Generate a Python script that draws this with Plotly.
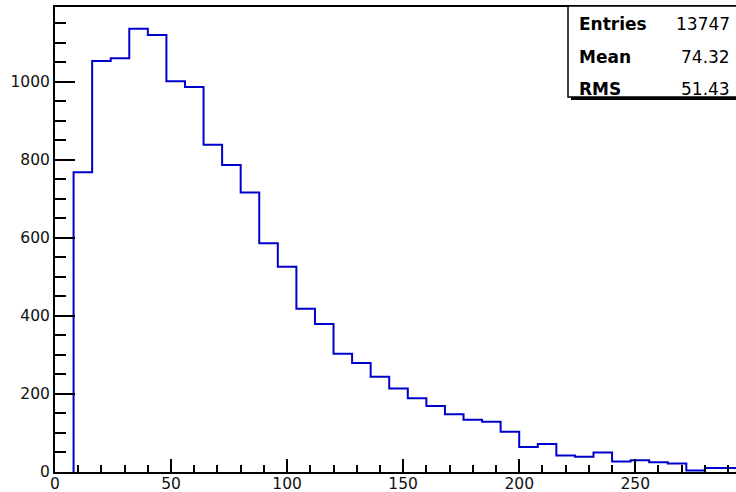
import plotly.graph_objects as go

# ---- data ----
bin_start = 8
bin_width = 8
counts = [768, 1053, 1060, 1135, 1119, 1001, 986, 838, 786, 716,
          586, 526, 418, 379, 303, 279, 244, 214, 189, 169,
          148, 134, 129, 103, 64, 72, 42, 39, 50, 27,
          30, 25, 22, 4, 10, 10]
stats_labels = ["Entries", "Mean", "RMS"]
stats_values = ["13747", "74.32", "51.43"]

# bin edges from the histogram definition
edges = [bin_start + i * bin_width for i in range(len(counts) + 1)]
xs = [edges[0]] + edges
ys = [0] + counts + [counts[-1]]

W, H = 736, 492
ML, MR, MT, MB = 55, 0, 7, 20
PW, PH = W - ML - MR, H - MT - MB

def px_x(p):
    return (p - ML) / PW

def px_y(p):
    return (H - MB - p) / PH

fig = go.Figure()
fig.add_trace(go.Scatter(
    x=xs, y=ys, mode="lines", line_shape="hv",
    line=dict(color="#0000cc", width=2), hoverinfo="skip", showlegend=False))

tickfont = dict(family="DejaVu Sans", size=15.5, color="#111111")
fig.update_xaxes(
    range=[0, 293.4], showgrid=False, zeroline=False,
    showline=True, linecolor="black", linewidth=2, mirror=True,
    ticks="inside", ticklen=13, tickwidth=2, tickcolor="black",
    dtick=50, tick0=0, tickfont=tickfont, automargin=False,
    ticklabelstandoff=-4,
    minor=dict(ticks="inside", dtick=10, ticklen=7, tickwidth=2, tickcolor="black", showgrid=False))
fig.update_yaxes(
    range=[0, 1191], showgrid=False, zeroline=False,
    showline=True, linecolor="black", linewidth=2, mirror=False,
    ticks="inside", ticklen=20, tickwidth=2, tickcolor="black",
    dtick=200, tick0=0, tickfont=tickfont, automargin=False,
    minor=dict(ticks="inside", dtick=50, ticklen=11, tickwidth=2, tickcolor="black", showgrid=False))

# stats box with shadow
bx0, bx1, by0, by1 = 568, 760, 6, 97
fig.add_shape(type="rect", xref="paper", yref="paper",
              x0=px_x(bx0 + 3), x1=px_x(bx1 + 3), y0=px_y(by1 + 3), y1=px_y(by0 + 3),
              fillcolor="black", line=dict(width=0), layer="above")
fig.add_shape(type="rect", xref="paper", yref="paper",
              x0=px_x(bx0), x1=px_x(bx1), y0=px_y(by1), y1=px_y(by0),
              fillcolor="white", line=dict(color="black", width=1.5), layer="above")

rows_y = [24.5, 56.5, 88.5]
for lab, val, ry in zip(stats_labels, stats_values, rows_y):
    fig.add_annotation(xref="paper", yref="paper", x=px_x(577), y=px_y(ry),
                       xanchor="left", yanchor="middle", showarrow=False,
                       text="<b>" + lab + "</b>",
                       font=dict(family="DejaVu Sans", size=17, color="black"))
    fig.add_annotation(xref="paper", yref="paper", x=px_x(732), y=px_y(ry),
                       xanchor="right", yanchor="middle", showarrow=False,
                       text=val,
                       font=dict(family="DejaVu Sans", size=17, color="black"))

fig.update_layout(
    width=W, height=H,
    margin=dict(l=ML, r=MR, t=MT, b=MB, pad=0),
    paper_bgcolor="white", plot_bgcolor="white",
    showlegend=False)

fig.write_html(
    "out.html",
    config={"displayModeBar": False},
    post_script="document.body.style.margin='0';document.body.style.padding='0';"
                "document.body.style.overflow='hidden';")
